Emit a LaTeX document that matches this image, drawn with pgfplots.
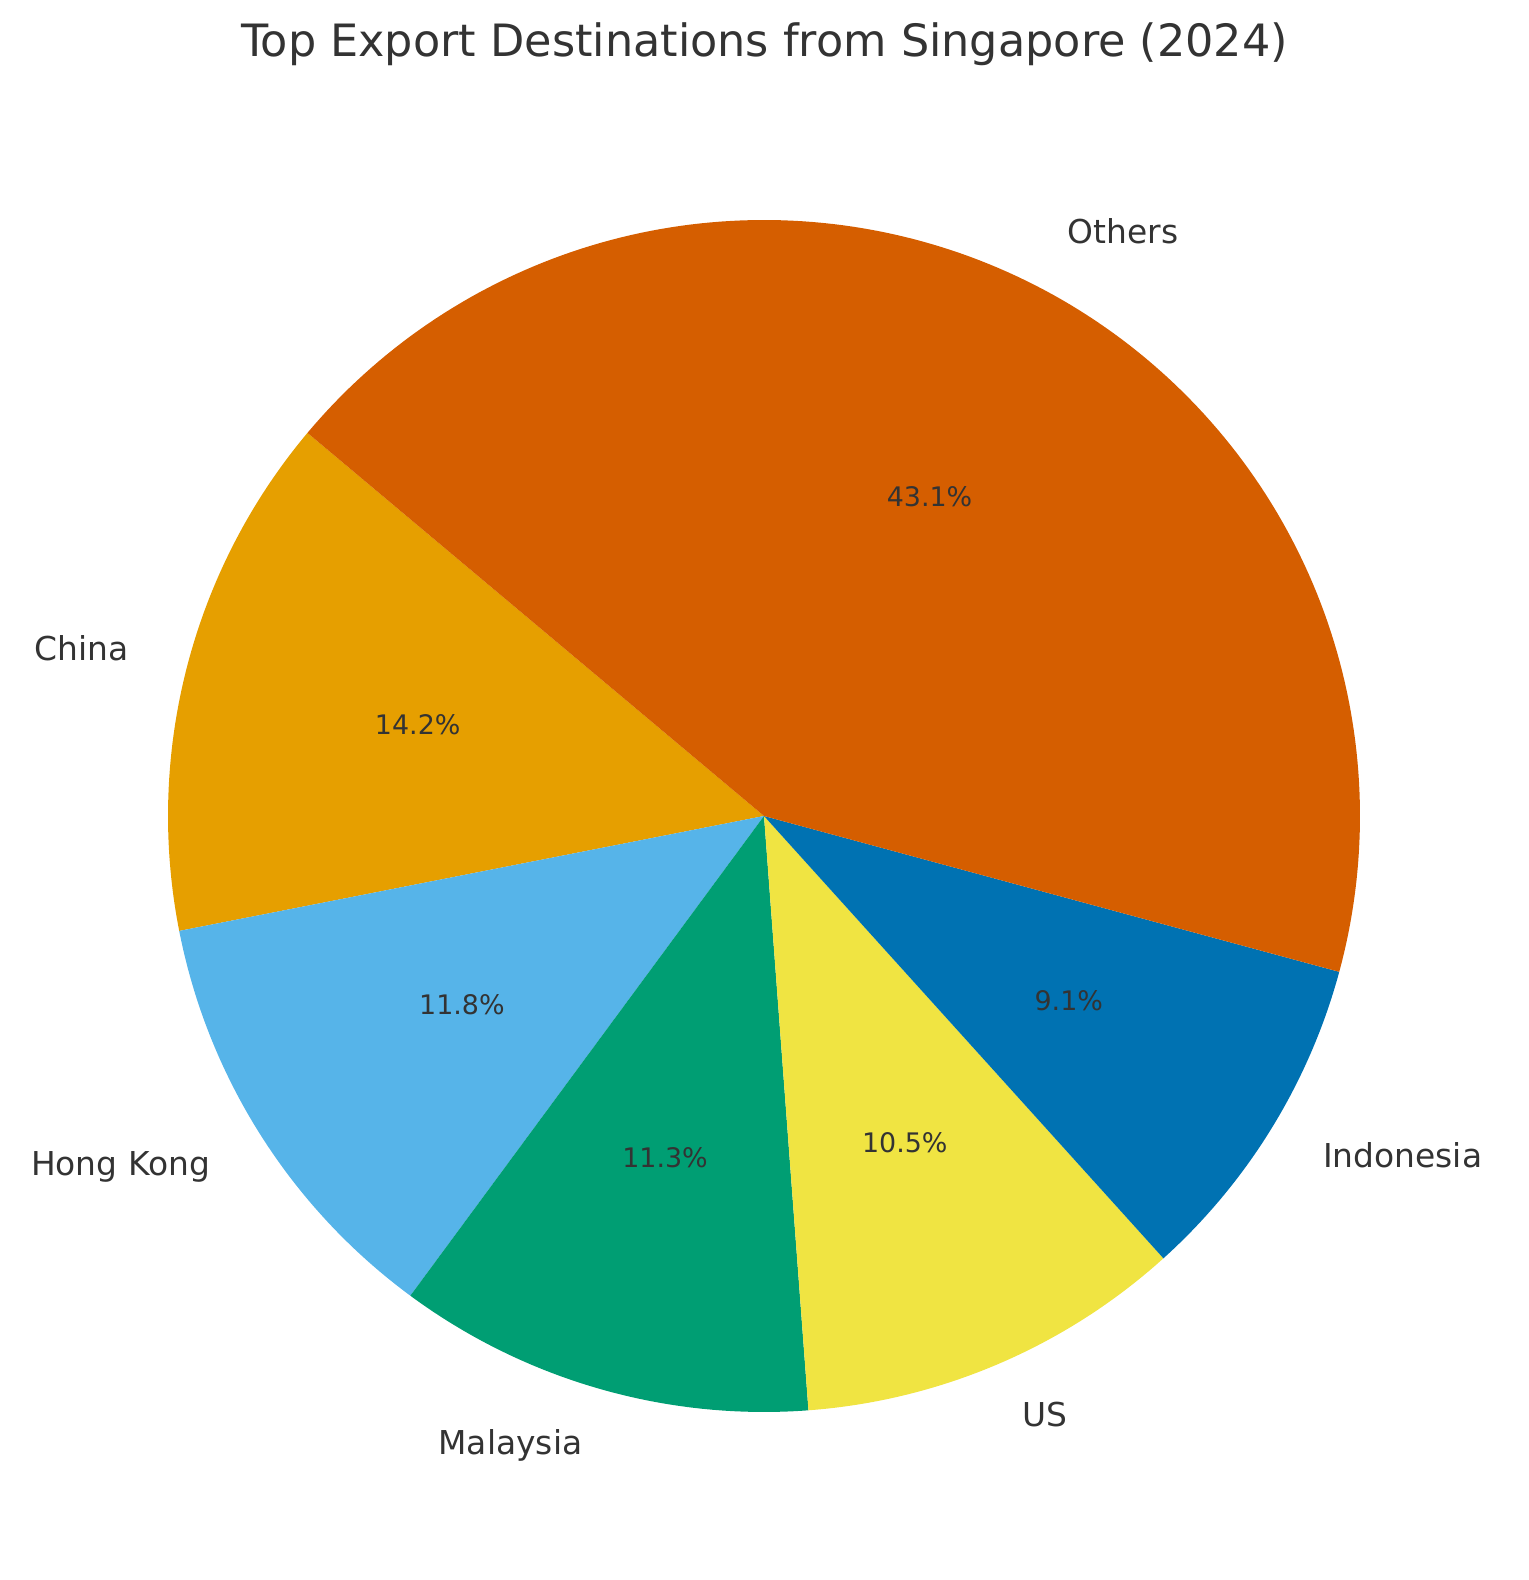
\documentclass[border=0pt]{standalone}
\usepackage{pgfplots}
\pgfplotsset{compat=1.18}
\usepackage{fontspec}
\setmainfont{DejaVu Sans}
\definecolor{cChina}{HTML}{E69F00}
\definecolor{cHK}{HTML}{56B4E9}
\definecolor{cMY}{HTML}{009E73}
\definecolor{cUS}{HTML}{F0E442}
\definecolor{cID}{HTML}{0072B2}
\definecolor{cOT}{HTML}{D55E00}
\definecolor{txt}{HTML}{333333}
\begin{document}
\begin{tikzpicture}
% shares (percent), counter-clockwise from 140 degrees
\def\vChina{14.2}\def\vHK{11.8}\def\vMY{11.3}\def\vUS{10.5}\def\vID{9.1}\def\vOT{43.1}
\pgfmathsetmacro\aA{140}
\pgfmathsetmacro\aB{\aA+3.6*\vChina}
\pgfmathsetmacro\aC{\aB+3.6*\vHK}
\pgfmathsetmacro\aD{\aC+3.6*\vMY}
\pgfmathsetmacro\aE{\aD+3.6*\vUS}
\pgfmathsetmacro\aF{\aE+3.6*\vID}
\pgfmathsetmacro\aG{\aF+3.6*\vOT}
\def\cx{764}\def\cy{764}\def\R{596}
\tikzset{lab/.style={text=txt, inner sep=0pt, font=\fontsize{16.5}{19}\selectfont, text height=0.76em, text depth=0.24em, yshift=-1.5bp},
         pct/.style={text=txt, inner sep=0pt, font=\fontsize{13.5}{16}\selectfont, text height=0.76em, text depth=0.24em, yshift=-1.2bp}}
\begin{axis}[
  scale only axis, width=764.5bp, height=790bp,
  xmin=0, xmax=1529, ymin=0, ymax=1580,
  hide axis, clip=false,
]
\path (axis cs:0,0) rectangle (axis cs:1529,1580);
\addplot[fill=cChina, draw=none, domain=\aA:\aB, samples=80] ({\cx+\R*cos(x)},{\cy+\R*sin(x)}) -- (axis cs:\cx,\cy) -- cycle;
\addplot[fill=cHK, draw=none, domain=\aB:\aC, samples=80] ({\cx+\R*cos(x)},{\cy+\R*sin(x)}) -- (axis cs:\cx,\cy) -- cycle;
\addplot[fill=cMY, draw=none, domain=\aC:\aD, samples=80] ({\cx+\R*cos(x)},{\cy+\R*sin(x)}) -- (axis cs:\cx,\cy) -- cycle;
\addplot[fill=cUS, draw=none, domain=\aD:\aE, samples=80] ({\cx+\R*cos(x)},{\cy+\R*sin(x)}) -- (axis cs:\cx,\cy) -- cycle;
\addplot[fill=cID, draw=none, domain=\aE:\aF, samples=80] ({\cx+\R*cos(x)},{\cy+\R*sin(x)}) -- (axis cs:\cx,\cy) -- cycle;
\addplot[fill=cOT, draw=none, domain=\aF:\aG, samples=160] ({\cx+\R*cos(x)},{\cy+\R*sin(x)}) -- (axis cs:\cx,\cy) -- cycle;
% labels at 1.1 R, percentages at 0.6 R
\foreach \s/\e/\name/\v/\side in {\aA/\aB/China/\vChina/east, \aB/\aC/Hong Kong/\vHK/east, \aC/\aD/Malaysia/\vMY/east, \aD/\aE/US/\vUS/west, \aE/\aF/Indonesia/\vID/west, \aF/\aG/Others/\vOT/west}{
  \pgfmathsetmacro\m{(\s+\e)/2}
  \pgfmathsetmacro\lx{\cx+1.1*\R*cos(\m)}
  \pgfmathsetmacro\ly{\cy+1.1*\R*sin(\m)}
  \pgfmathsetmacro\px{\cx+0.6*\R*cos(\m)}
  \pgfmathsetmacro\py{\cy+0.6*\R*sin(\m)}
  \edef\temp{\noexpand\node[lab, anchor=\side] at (axis cs:\lx,\ly) {\name};
    \noexpand\node[pct] at (axis cs:\px,\py) {\v\noexpand\%};}
  \temp
}
\node[text=txt, inner sep=0pt, anchor=base, font=\fontsize{22.35}{26}\selectfont] at (axis cs:764.5,1523) {Top Export Destinations from Singapore (2024)};
\end{axis}
\end{tikzpicture}
\end{document}
